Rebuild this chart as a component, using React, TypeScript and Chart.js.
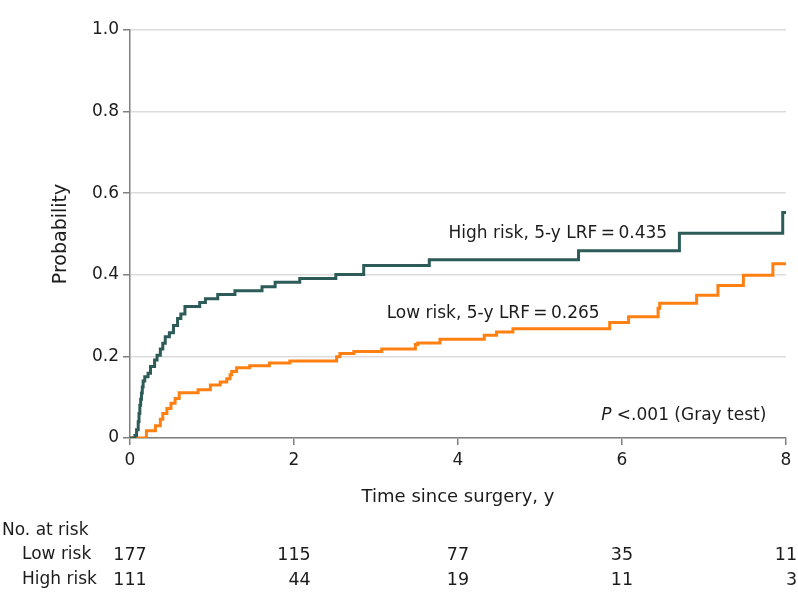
import React, { useEffect, useRef } from 'react';
import { Chart, registerables } from 'chart.js';

Chart.register(...registerables);

const FONT = '"DejaVu Sans", "Liberation Sans", sans-serif';

// Cumulative incidence step data (time in years, probability after step)
const highRiskTimes = [0, 0.06, 0.08, 0.1, 0.11, 0.12, 0.13, 0.14, 0.15, 0.16, 0.18, 0.22, 0.25, 0.3, 0.33, 0.37, 0.4, 0.43, 0.48, 0.53, 0.58, 0.62, 0.67, 0.85, 0.92, 1.07, 1.28, 1.61, 1.77, 2.07, 2.51, 2.85, 3.65, 5.47, 6.7, 7.96, 8.0];
const highRiskValues = [0, 0.006, 0.02, 0.04, 0.06, 0.08, 0.095, 0.11, 0.125, 0.14, 0.15, 0.159, 0.175, 0.191, 0.203, 0.218, 0.232, 0.248, 0.258, 0.276, 0.293, 0.304, 0.322, 0.332, 0.341, 0.352, 0.361, 0.371, 0.382, 0.391, 0.401, 0.423, 0.437, 0.459, 0.502, 0.553, 0.553];

const lowRiskTimes = [0, 0.2, 0.31, 0.37, 0.4, 0.45, 0.5, 0.55, 0.6, 0.83, 0.98, 1.1, 1.18, 1.22, 1.24, 1.3, 1.46, 1.7, 1.95, 2.52, 2.56, 2.73, 3.07, 3.48, 3.51, 3.78, 4.32, 4.47, 4.67, 5.85, 6.08, 6.44, 6.46, 6.91, 7.17, 7.48, 7.84, 8.0];
const lowRiskValues = [0, 0.018, 0.03, 0.046, 0.06, 0.072, 0.085, 0.097, 0.111, 0.118, 0.13, 0.137, 0.145, 0.155, 0.163, 0.172, 0.177, 0.184, 0.189, 0.199, 0.207, 0.212, 0.218, 0.229, 0.233, 0.242, 0.252, 0.26, 0.268, 0.283, 0.297, 0.318, 0.33, 0.35, 0.374, 0.399, 0.427, 0.427];

const xTickValues = [0, 2, 4, 6, 8];
const lowRiskAtRisk = [177, 115, 77, 35, 11];
const highRiskAtRisk = [111, 44, 19, 11, 3];

const highRiskLabel = 'High risk, 5-y LRF\u2009=\u20090.435';
const lowRiskLabel = 'Low risk, 5-y LRF\u2009=\u20090.265';

const TEAL = '#2d5b57';
const ORANGE = '#ff8012';
const TEXT = '#1c1c1c';

const overlayPlugin = {
  id: 'overlay',
  afterDraw(chart: any) {
    const { ctx } = chart;
    const x = chart.scales.x;
    const y = chart.scales.y;
    ctx.save();
    ctx.fillStyle = TEXT;
    ctx.font = `17px ${FONT}`;
    ctx.textBaseline = 'middle';

    // curve labels
    ctx.textAlign = 'right';
    ctx.fillText(highRiskLabel, x.getPixelForValue(6.55), y.getPixelForValue(0.5));
    ctx.textAlign = 'left';
    ctx.fillText(lowRiskLabel, x.getPixelForValue(3.13), y.getPixelForValue(0.304));

    // P value
    const rest = ' <.001 (Gray test)';
    const right = x.getPixelForValue(7.76);
    const py = y.getPixelForValue(0.056);
    const restW = ctx.measureText(rest).width;
    ctx.textAlign = 'left';
    ctx.fillText(rest, right - restW, py);
    ctx.font = `italic 17px ${FONT}`;
    ctx.textAlign = 'right';
    ctx.fillText('P', right - restW, py);

    // number at risk table
    ctx.font = `17px ${FONT}`;
    ctx.textAlign = 'left';
    ctx.fillText('No. at risk', 2, 531);
    ctx.fillText('Low risk', 22, 555);
    ctx.fillText('High risk', 22, 580);
    ctx.font = `17.5px ${FONT}`;
    xTickValues.forEach((v, i) => {
      const px = x.getPixelForValue(v);
      const a = String(lowRiskAtRisk[i]);
      const b = String(highRiskAtRisk[i]);
      const w = Math.max(ctx.measureText(a).width, ctx.measureText(b).width);
      ctx.textAlign = 'right';
      ctx.fillText(a, px + w / 2, 555);
      ctx.fillText(b, px + w / 2, 580);
    });
    ctx.restore();
  },
};

export default function App() {
  const canvasRef = useRef<HTMLCanvasElement | null>(null);

  useEffect(() => {
    if (!canvasRef.current) return;
    const chart = new Chart(canvasRef.current, {
      type: 'line',
      data: {
        datasets: [
          {
            label: 'High risk',
            data: highRiskTimes.map((t, i) => ({ x: t, y: highRiskValues[i] })),
            borderColor: TEAL,
            borderWidth: 3,
            pointRadius: 0,
            stepped: true,
            fill: false,
          },
          {
            label: 'Low risk',
            data: lowRiskTimes.map((t, i) => ({ x: t, y: lowRiskValues[i] })),
            borderColor: ORANGE,
            borderWidth: 3,
            pointRadius: 0,
            stepped: true,
            fill: false,
          },
        ],
      },
      options: {
        animation: false,
        responsive: true,
        maintainAspectRatio: false,
        layout: { padding: { left: 50, top: 30, right: 12, bottom: 100 } },
        plugins: {
          legend: { display: false },
          tooltip: { enabled: false },
        },
        scales: {
          x: {
            type: 'linear',
            min: 0,
            max: 8,
            afterFit: (s: any) => { s.height = 70; },
            ticks: {
              stepSize: 2,
              color: TEXT,
              font: { family: FONT, size: 17 },
              padding: 5,
            },
            grid: {
              drawOnChartArea: false,
              drawTicks: true,
              tickLength: 7,
              color: '#808080',
              lineWidth: 1.5,
            },
            border: { color: '#808080', width: 1.5 },
            title: {
              display: true,
              text: 'Time since surgery, y',
              color: TEXT,
              font: { family: FONT, size: 18, lineHeight: 1.2 },
              padding: 0,
            },
          },
          y: {
            type: 'linear',
            min: 0,
            max: 1,
            afterFit: (s: any) => { s.width = 80; },
            ticks: {
              stepSize: 0.2,
              color: TEXT,
              font: { family: FONT, size: 17 },
              padding: 4,
              callback: (v: any) => (Number(v) === 0 ? '0' : Number(v).toFixed(1)),
            },
            grid: {
              color: '#dcdcdc',
              lineWidth: 1.5,
              tickColor: '#808080',
              tickLength: 7,
            },
            border: { color: '#808080', width: 1.5 },
            title: {
              display: true,
              text: 'Probability',
              color: TEXT,
              font: { family: FONT, size: 19, lineHeight: 1.2 },
              padding: 0,
            },
          },
        },
      },
      plugins: [overlayPlugin],
    });
    return () => chart.destroy();
  }, []);

  return (
    <div style={{ position: 'absolute', left: 0, top: 0, width: 798, height: 608, background: '#fff' }}>
      <canvas ref={canvasRef} />
    </div>
  );
}
